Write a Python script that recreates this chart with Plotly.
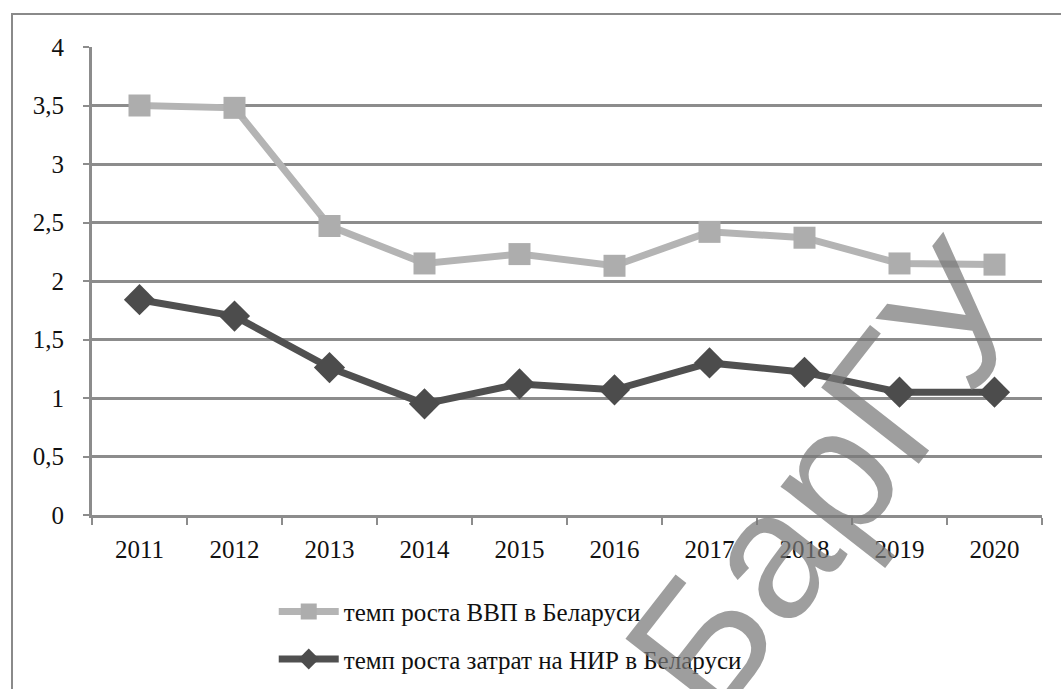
import plotly.graph_objects as go

# Годы и темпы роста
years = ["2011", "2012", "2013", "2014", "2015", "2016", "2017", "2018", "2019", "2020"]
gdp_growth = [3.50, 3.48, 2.47, 2.15, 2.23, 2.13, 2.42, 2.37, 2.15, 2.14]
rd_growth = [1.84, 1.70, 1.26, 0.95, 1.12, 1.07, 1.30, 1.22, 1.05, 1.05]
series_names = ["темп роста ВВП в Беларуси", "темп роста затрат на НИР в Беларуси"]
y_ticks = [0, 0.5, 1, 1.5, 2, 2.5, 3, 3.5, 4]
y_tick_labels = ["0", "0,5", "1", "1,5", "2", "2,5", "3", "3,5", "4"]

GRID = "#8c8c8c"


def serif_font():
    return dict(family="Liberation Serif, serif", size=25, color="#111111")


fig = go.Figure()
fig.add_trace(go.Scatter(
    x=years, y=gdp_growth, name=series_names[0], mode="lines+markers",
    legendgroup="gdp",
    line=dict(color="#b4b4b4", width=7),
    marker=dict(symbol="square", size=22, color="#adadad"),
))
fig.add_trace(go.Scatter(
    x=years, y=rd_growth, name=series_names[1], mode="lines+markers",
    legendgroup="rd",
    line=dict(color="#505050", width=7),
    marker=dict(symbol="diamond", size=24, color="#4c4c4c"),
))

fig.update_layout(
    width=1061, height=689,
    margin=dict(l=92, r=19, t=47, b=174, autoexpand=False),
    paper_bgcolor="white", plot_bgcolor="white",
    showlegend=True,
    legend=dict(
        xref="container", yref="container",
        x=0.258, y=0.078, xanchor="left", yanchor="middle",
        orientation="v", itemwidth=60,
        font=serif_font(),
        tracegroupgap=12, bgcolor="rgba(0,0,0,0)",
    ),
    xaxis=dict(
        type="category", range=[-0.5, 9.5], tickangle=0,
        showgrid=False, showline=True, linecolor=GRID, linewidth=3,
        ticks="outside", tickson="boundaries", ticklen=7, tickwidth=2, tickcolor=GRID,
        tickfont=serif_font(), ticklabelstandoff=10,
    ),
    yaxis=dict(
        range=[0, 4], tickvals=y_ticks, ticktext=y_tick_labels,
        showgrid=True, gridcolor=GRID, gridwidth=3,
        showline=True, linecolor=GRID, linewidth=3,
        ticks="outside", ticklen=6, tickwidth=2, tickcolor=GRID,
        tickfont=serif_font(), ticklabelstandoff=14, zeroline=False,
    ),
    shapes=[
        # outer frame of the figure
        dict(type="rect", xref="paper", yref="paper",
             x0=-80 / 950, x1=1.05, y0=-0.5, y1=(515 - 14) / 468,
             line=dict(color="#8a8a8a", width=2), fillcolor="rgba(0,0,0,0)", layer="below"),
    ],
    annotations=[
        dict(text="БарГУ", xref="paper", yref="paper",
             x=(828 - 92) / 950, y=(515 - 478) / 468,
             xanchor="center", yanchor="middle",
             showarrow=False, textangle=-52,
             font=dict(family="Arial", size=180,
                       color="rgba(120,120,120,0.72)")),
    ],
)

fig.write_html("out.html")
